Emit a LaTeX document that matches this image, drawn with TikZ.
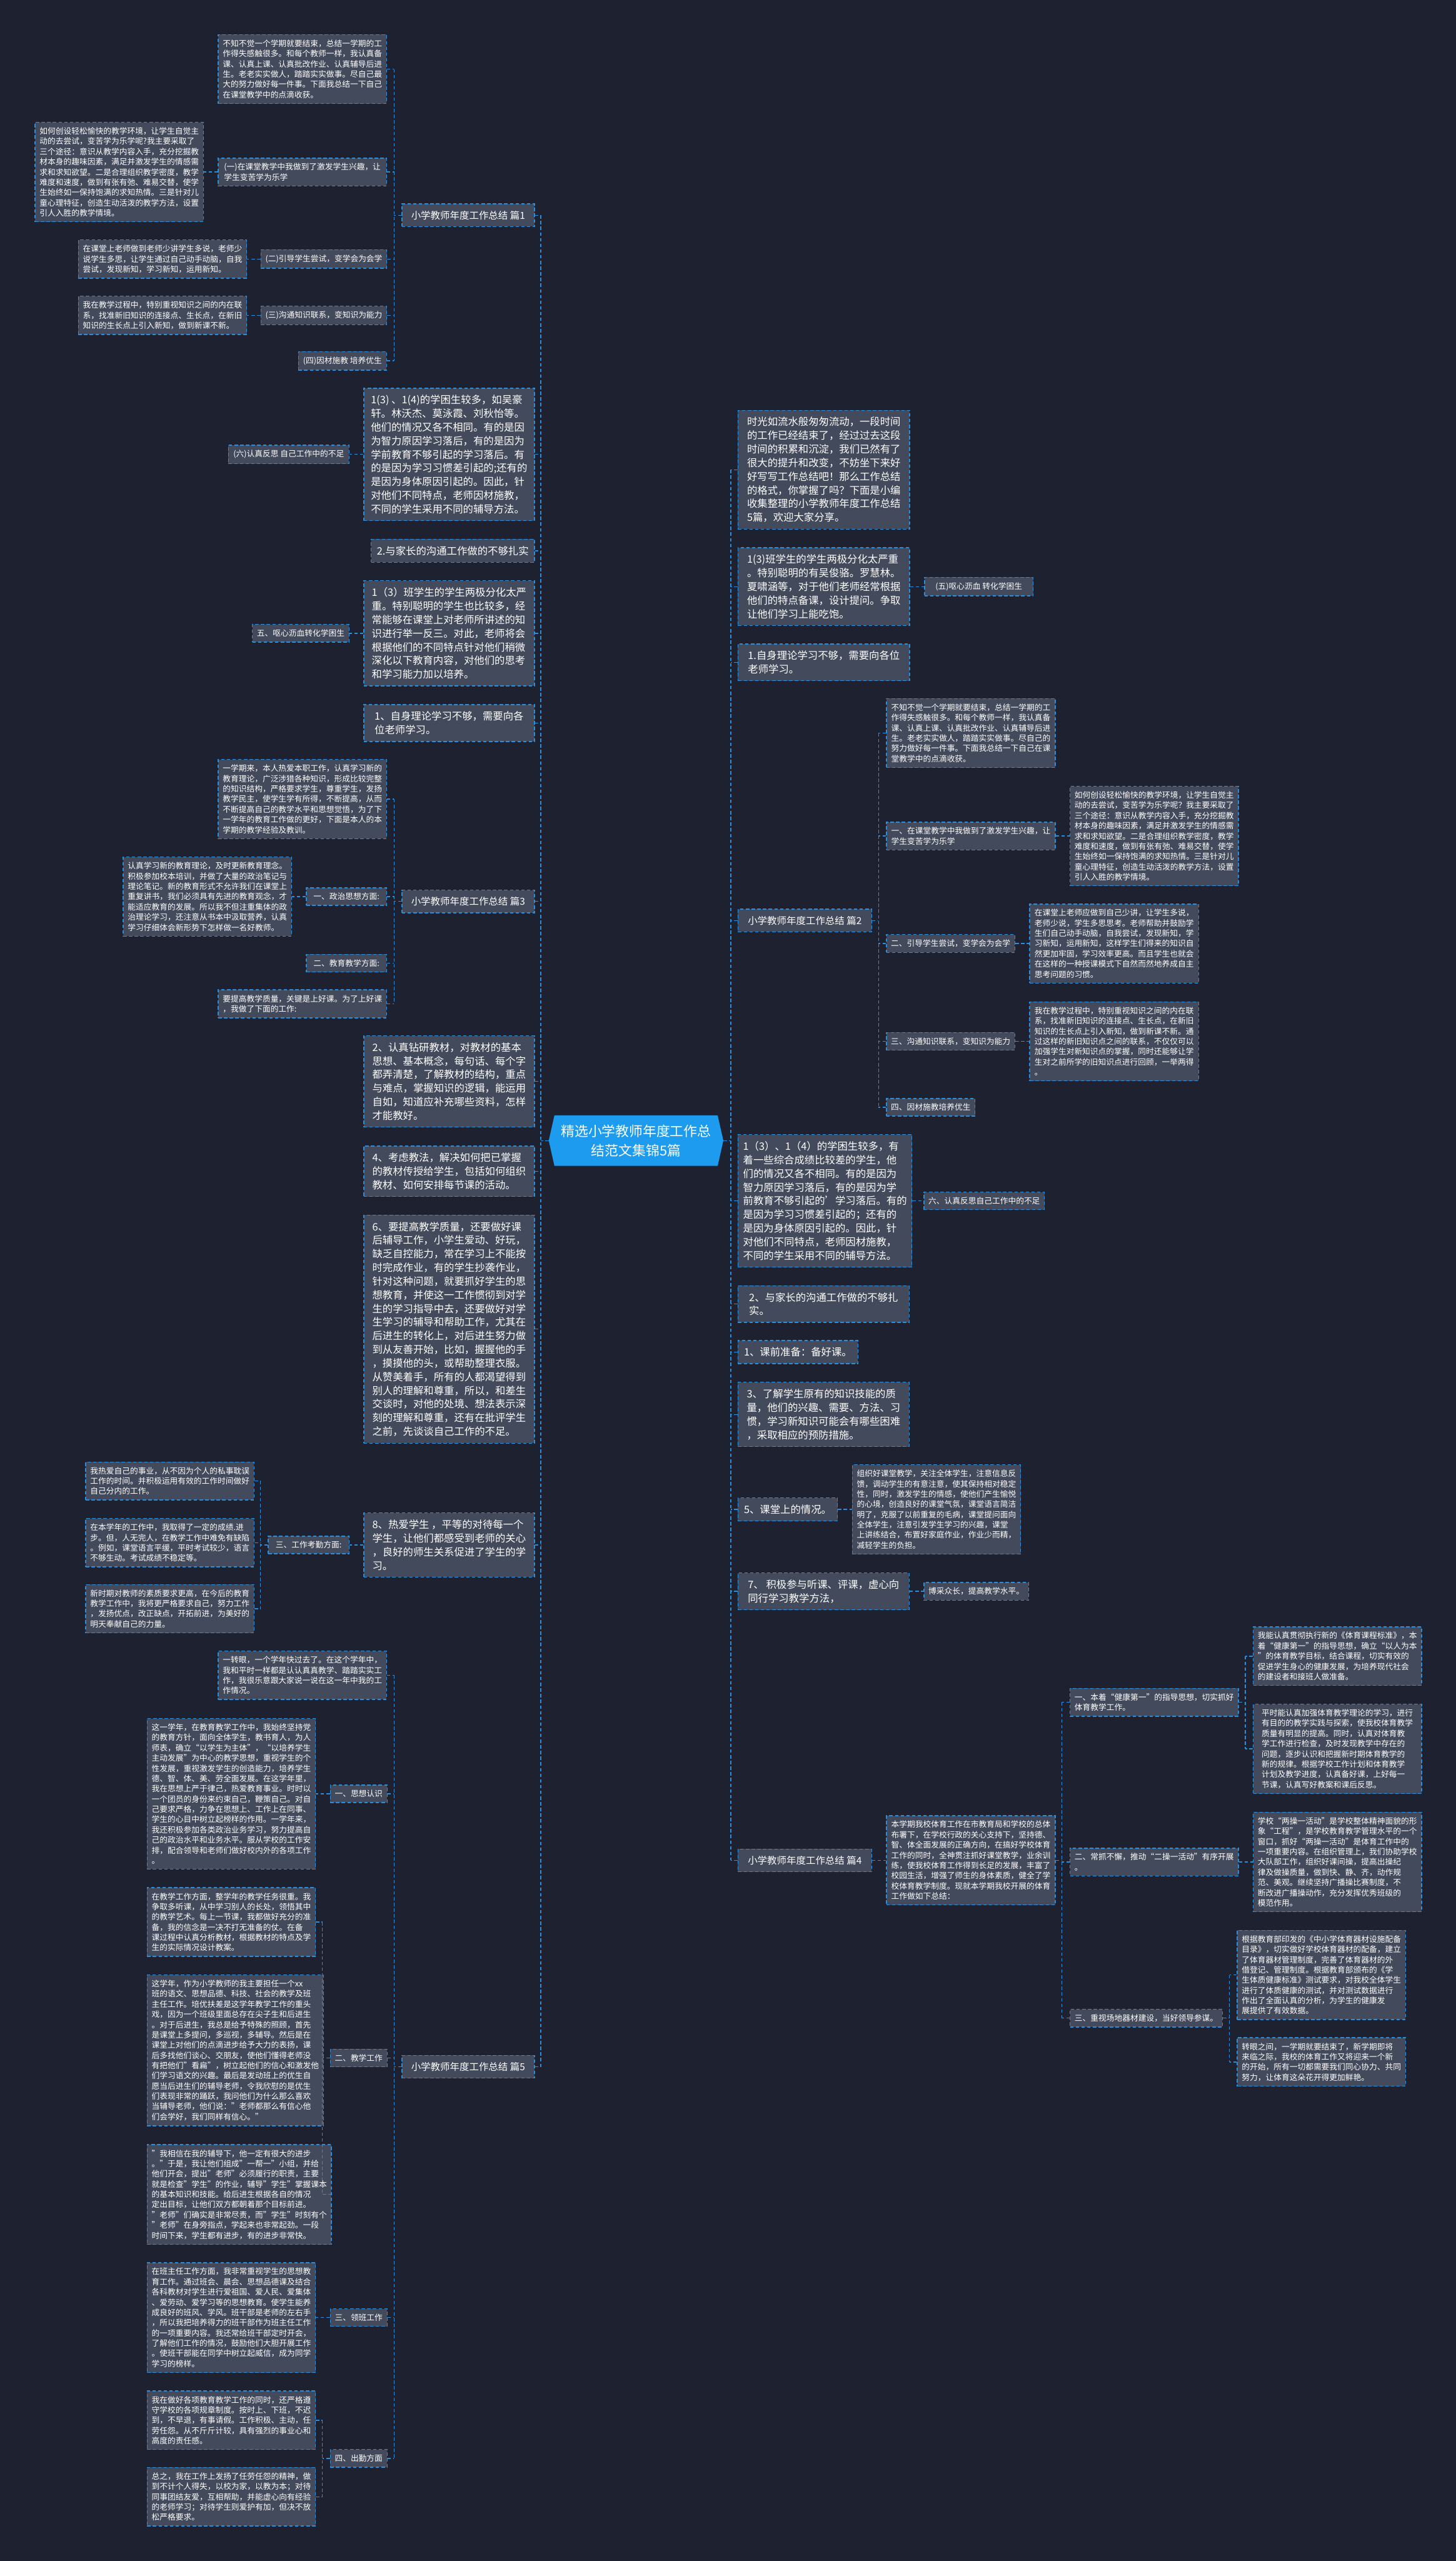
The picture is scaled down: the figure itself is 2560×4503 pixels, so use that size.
\documentclass[tikz,border=0pt]{standalone}
\usepackage{fontspec}
\setmainfont{Noto Sans CJK SC}
\definecolor{bgcol}{HTML}{1E2230}
\definecolor{boxfill}{HTML}{434A5B}
\definecolor{lineblue}{HTML}{2C8DDB}
\definecolor{cblue}{HTML}{1C9BEF}
\begin{document}
\begin{tikzpicture}[x=1pt,y=-1pt,
  conn/.style={draw=lineblue, line width=1.5pt, dash pattern=on 6pt off 4pt},
  basebox/.style={draw=lineblue, fill=boxfill, line width=1.5pt, dash pattern=on 6pt off 4pt, text=white, anchor=west, align=left, rectangle},
  smallbox/.style={basebox, font=\fontsize{14}{18}\selectfont, inner xsep=8pt, inner ysep=9pt},
  bigbox/.style={basebox, font=\fontsize{18}{24}\selectfont, inner xsep=9pt, inner ysep=12pt},
  branchbox/.style={basebox, font=\fontsize{17}{20}\selectfont, inner xsep=10pt, inner ysep=12pt},
]
\fill[bgcol] (0,0) rectangle (2560,4503);
\useasboundingbox (0,0) rectangle (2560,4503);

% ---------- centre ----------
\fill[cblue] (965,2005.5) -- (975,1961) -- (1262,1961) -- (1272,2005.5) -- (1262,2050) -- (975,2050) -- cycle;
\node[text=white, align=center, font=\fontsize{24}{34}\selectfont, minimum width=307pt, minimum height=89pt, inner sep=0pt] (cn) at (1118.5,2005.5) {精选小学教师年度工作总\\结范文集锦5篇};

% ---------- left side ----------
\node[branchbox, minimum width=233pt] (L1) at (706,378.5) {小学教师年度工作总结~篇1};
\node[smallbox, minimum width=296pt] (L1a) at (383,121.5) {不知不觉一个学期就要结束，总结一学期的工\\作得失感触很多。和每个教师一样，我认真备\\课、认真上课、认真批改作业、认真辅导后进\\生。老老实实做人，踏踏实实做事。尽自己最\\大的努力做好每一件事。下面我总结一下自己\\在课堂教学中的点滴收获。};
\node[smallbox, minimum width=296pt] (L1b) at (383,302.5) {(一)在课堂教学中我做到了激发学生兴趣，让\\学生变苦学为乐学};
\node[smallbox, minimum width=296pt] (L1b1) at (61,302.5) {如何创设轻松愉快的教学环境，让学生自觉主\\动的去尝试，变苦学为乐学呢?我主要采取了\\三个途径：意识从教学内容入手，充分挖掘教\\材本身的趣味因素，满足并激发学生的情感需\\求和求知欲望。二是合理组织教学密度，教学\\难度和速度，做到有张有弛、难易交替，使学\\生始终如一保持饱满的求知热情。三是针对儿\\童心理特征，创造生动活泼的教学方法，设置\\引人入胜的教学情境。};
\node[smallbox, minimum width=221pt] (L1c) at (458,455.5) {(二)引导学生尝试，变学会为会学};
\node[smallbox, minimum width=296pt] (L1c1) at (137,455.5) {在课堂上老师做到老师少讲学生多说，老师少\\说学生多思，让学生通过自己动手动脑，自我\\尝试，发现新知，学习新知，运用新知。};
\node[smallbox, minimum width=221pt] (L1d) at (458,554.5) {(三)沟通知识联系，变知识为能力};
\node[smallbox, minimum width=296pt] (L1d1) at (137,554.5) {我在教学过程中，特别重视知识之间的内在联\\系，找准新旧知识的连接点、生长点，在新旧\\知识的生长点上引入新知，做到新课不新。};
\node[smallbox, minimum width=155pt] (L1e) at (524,634.5) {(四)因材施教~培养优生};

\node[bigbox, minimum width=300pt] (BA) at (639,799) {1(3)~、1(4)的学困生较多，如吴豪\\轩。林沃杰、莫泳霞、刘秋怡等。\\他们的情况又各不相同。有的是因\\为智力原因学习落后，有的是因为\\学前教育不够引起的学习落后。有\\的是因为学习习惯差引起的;还有的\\是因为身体原因引起的。因此，针\\对他们不同特点，老师因材施教，\\不同的学生采用不同的辅导方法。};
\node[smallbox, minimum width=212pt] (A6) at (401,799) {(六)认真反思~自己工作中的不足};
\node[bigbox, minimum width=287pt] (FAM) at (652,968.5) {2.与家长的沟通工作做的不够扎实};
\node[bigbox, minimum width=300pt] (BB) at (639,1113.5) {1（3）班学生的学生两极分化太严\\重。特别聪明的学生也比较多，经\\常能够在课堂上对老师所讲述的知\\识进行举一反三。对此，老师将会\\根据他们的不同特点针对他们稍微\\深化以下教育内容，对他们的思考\\和学习能力加以培养。};
\node[smallbox, minimum width=170pt] (B5) at (443,1113.5) {五、呕心沥血转化学困生};
\node[bigbox, minimum width=300pt] (SELF) at (639,1271.5) {1、自身理论学习不够，需要向各\\位老师学习。};

\node[branchbox, minimum width=233pt] (P3) at (706,1585) {小学教师年度工作总结~篇3};
\node[smallbox, minimum width=296pt] (P3a) at (383,1405) {一学期来，本人热爱本职工作，认真学习新的\\教育理论，广泛涉猎各种知识，形成比较完整\\的知识结构，严格要求学生，尊重学生，发扬\\教学民主，使学生学有所得，不断提高，从而\\不断提高自己的教学水平和思想觉悟，为了下\\一学年的教育工作做的更好，下面是本人的本\\学期的教学经验及教训。};
\node[smallbox, minimum width=141pt] (P3b) at (538,1576.5) {一、政治思想方面:};
\node[smallbox, minimum width=296pt] (P3b1) at (216,1576.5) {认真学习新的教育理论，及时更新教育理念。\\积极参加校本培训，并做了大量的政治笔记与\\理论笔记。新的教育形式不允许我们在课堂上\\重复讲书，我们必须具有先进的教育观念，才\\能适应教育的发展。所以我不但注重集体的政\\治理论学习，还注意从书本中汲取营养，认真\\学习仔细体会新形势下怎样做一名好教师。};
\node[smallbox, minimum width=141pt] (P3c) at (538,1693.5) {二、教育教学方面:};
\node[smallbox, minimum width=296pt] (P3d) at (383,1765) {要提高教学质量，关键是上好课。为了上好课\\，我做了下面的工作:};

\node[bigbox, minimum width=300pt] (ST2) at (639,1901.5) {2、认真钻研教材，对教材的基本\\思想、基本概念，每句话、每个字\\都弄清楚，了解教材的结构，重点\\与难点，掌握知识的逻辑，能运用\\自如，知道应补充哪些资料，怎样\\才能教好。};
\node[bigbox, minimum width=300pt] (TE4) at (639,2059.5) {4、考虑教法，解决如何把已掌握\\的教材传授给学生，包括如何组织\\教材、如何安排每节课的活动。};
\node[bigbox, minimum width=300pt] (TU6) at (639,2337) {6、要提高教学质量，还要做好课\\后辅导工作，小学生爱动、好玩，\\缺乏自控能力，常在学习上不能按\\时完成作业，有的学生抄袭作业，\\针对这种问题，就要抓好学生的思\\想教育，并使这一工作惯彻到对学\\生的学习指导中去，还要做好对学\\生学习的辅导和帮助工作，尤其在\\后进生的转化上，对后进生努力做\\到从友善开始，比如，握握他的手\\，摸摸他的头，或帮助整理衣服。\\从赞美着手，所有的人都渴望得到\\别人的理解和尊重，所以，和差生\\交谈时，对他的处境、想法表示深\\刻的理解和尊重，还有在批评学生\\之前，先谈谈自己工作的不足。};
\node[bigbox, minimum width=300pt] (LO8) at (639,2716.5) {8、热爱学生~，平等的对待每一个\\学生，让他们都感受到老师的关心\\，良好的师生关系促进了学生的学\\习。};
\node[smallbox, minimum width=142pt] (K3) at (471,2716.5) {三、工作考勤方面:};
\node[smallbox, minimum width=296pt] (K3a) at (150,2604) {我热爱自己的事业，从不因为个人的私事耽误\\工作的时间。并积极运用有效的工作时间做好\\自己分内的工作。};
\node[smallbox, minimum width=296pt] (K3b) at (150,2712.5) {在本学年的工作中，我取得了一定的成绩.进\\步。但，人无完人，在教学工作中难免有缺陷\\。例如，课堂语言平缓，平时考试较少，语言\\不够生动。考试成绩不稳定等。};
\node[smallbox, minimum width=296pt] (K3c) at (150,2828.5) {新时期对教师的素质要求更高，在今后的教育\\教学工作中，我将更严格要求自己，努力工作\\，发扬优点，改正缺点，开拓前进，为美好的\\明天奉献自己的力量。};

\node[branchbox, minimum width=233pt] (P5) at (706,3634) {小学教师年度工作总结~篇5};
\node[smallbox, minimum width=296pt] (P5a) at (383,2945.5) {一转眼，一个学年快过去了。在这个学年中，\\我和平时一样都是认认真真教学、踏踏实实工\\作，我很乐意跟大家说一说在这一年中我的工\\作情况。};
\node[smallbox, minimum width=99pt] (P5b) at (580,3154) {一、思想认识};
\node[smallbox, minimum width=296pt] (P5b1) at (258,3154) {这一学年，在教育教学工作中，我始终坚持党\\的教育方针，面向全体学生，教书育人，为人\\师表，确立“以学生为主体”，“以培养学生\\主动发展”为中心的教学思想，重视学生的个\\性发展，重视激发学生的创造能力，培养学生\\德、智、体、美、劳全面发展。在这学年里，\\我在思想上严于律己，热爱教育事业。时时以\\一个团员的身份来约束自己，鞭策自己。对自\\己要求严格，力争在思想上、工作上在同事、\\学生的心目中树立起榜样的作用。一学年来，\\我还积极参加各类政治业务学习，努力提高自\\己的政治水平和业务水平。服从学校的工作安\\排，配合领导和老师们做好校内外的各项工作\\。};
\node[smallbox, minimum width=99pt] (P5c) at (580,3618.5) {二、教学工作};
\node[smallbox, minimum width=296pt] (P5c1) at (258,3379.5) {在教学工作方面，整学年的教学任务很重。我\\争取多听课，从中学习别人的长处，领悟其中\\的教学艺术。每上一节课，我都做好充分的准\\备，我的信念是一决不打无准备的仗。在备\\课过程中认真分析教材，根据教材的特点及学\\生的实际情况设计教案。};
\node[smallbox, minimum width=296pt] (P5c2) at (258,3605) {这学年，作为小学教师的我主要担任一个xx\\班的语文、思想品德、科技、社会的教学及班\\主任工作。培优扶差是这学年教学工作的重头\\戏，因为一个班级里面总存在尖子生和后进生\\。对于后进生，我总是给予特殊的照顾，首先\\是课堂上多提问，多巡视，多辅导。然后是在\\课堂上对他们的点滴进步给予大力的表扬，课\\后多找他们谈心、交朋友，使他们懂得老师没\\有把他们"看扁"，树立起他们的信心和激发他\\们学习语文的兴趣。最后是发动班上的优生自\\愿当后进生们的辅导老师，令我欣慰的是优生\\们表现非常的踊跃，我问他们为什么那么喜欢\\当辅导老师，他们说："老师都那么有信心他\\们会学好，我们同样有信心。"};
\node[smallbox, minimum width=296pt] (P5c3) at (258,3858.5) {"我相信在我的辅导下，他一定有很大的进步\\。"于是，我让他们组成"一帮一"小组，并给\\他们开会，提出"老师"必须履行的职责，主要\\就是检查"学生"的作业，辅导"学生"掌握课本\\的基本知识和技能。给后进生根据各自的情况\\定出目标，让他们双方都朝着那个目标前进。\\"老师"们确实是非常尽责，而"学生"时刻有个\\"老师"在身旁指点，学起来也非常起劲。一段\\时间下来，学生都有进步，有的进步非常快。};
\node[smallbox, minimum width=99pt] (P5d) at (580,4075) {三、领班工作};
\node[smallbox, minimum width=296pt] (P5d1) at (258,4075) {在班主任工作方面，我非常重视学生的思想教\\育工作。通过班会、晨会、思想品德课及结合\\各科教材对学生进行爱祖国、爱人民、爱集体\\、爱劳动、爱学习等的思想教育。使学生能养\\成良好的班风、学风。班干部是老师的左右手\\，所以我把培养得力的班干部作为班主任工作\\的一项重要内容。我还常给班干部定时开会，\\了解他们工作的情况，鼓励他们大胆开展工作\\。使班干部能在同学中树立起威信，成为同学\\学习的榜样。};
\node[smallbox, minimum width=99pt] (P5e) at (580,4322.5) {四、出勤方面};
\node[smallbox, minimum width=296pt] (P5e1) at (258,4255.5) {我在做好各项教育教学工作的同时，还严格遵\\守学校的各项规章制度。按时上、下班，不迟\\到，不早退，有事请假。工作积极、主动，任\\劳任怨。从不斤斤计较，具有强烈的事业心和\\高度的责任感。};
\node[smallbox, minimum width=296pt] (P5e2) at (258,4390) {总之，我在工作上发扬了任劳任怨的精神，做\\到不计个人得失，以校为家，以教为本；对待\\同事团结友爱，互相帮助，并能虚心向有经验\\的老师学习；对待学生则爱护有加，但决不放\\松严格要求。};

% ---------- right side ----------
\node[bigbox, minimum width=302pt] (R1) at (1297,826) {时光如流水般匆匆流动，一段时间\\的工作已经结束了，经过过去这段\\时间的积累和沉淀，我们已然有了\\很大的提升和改变，不妨坐下来好\\好写写工作总结吧！那么工作总结\\的格式，你掌握了吗？下面是小编\\收集整理的小学教师年度工作总结\\5篇，欢迎大家分享。};
\node[bigbox, minimum width=302pt] (R2) at (1297,1031.5) {1(3)班学生的学生两极分化太严重\\。特别聪明的有吴俊骆。罗慧林。\\夏啸涵等，对于他们老师经常根据\\他们的特点备课，设计提问。争取\\让他们学习上能吃饱。};
\node[smallbox, minimum width=191pt] (R2a) at (1625,1031.5) {(五)呕心沥血~转化学困生};
\node[bigbox, minimum width=302pt] (R3) at (1297,1164.5) {1.自身理论学习不够，需要向各位\\老师学习。};

\node[branchbox, minimum width=235pt] (P2) at (1297,1618.5) {小学教师年度工作总结~篇2};
\node[smallbox, minimum width=297pt] (P2a) at (1558,1289) {不知不觉一个学期就要结束，总结一学期的工\\作得失感触很多。和每个教师一样，我认真备\\课、认真上课、认真批改作业、认真辅导后进\\生。老老实实做人，踏踏实实做事。尽自己的\\努力做好每一件事。下面我总结一下自己在课\\堂教学中的点滴收获。};
\node[smallbox, minimum width=297pt] (P2b) at (1558,1470) {一、在课堂教学中我做到了激发学生兴趣，让\\学生变苦学为乐学};
\node[smallbox, minimum width=296pt] (P2b1) at (1881,1470) {如何创设轻松愉快的教学环境，让学生自觉主\\动的去尝试，变苦学为乐学呢？我主要采取了\\三个途径：意识从教学内容入手，充分挖掘教\\材本身的趣味因素，满足并激发学生的情感需\\求和求知欲望。二是合理组织教学密度，教学\\难度和速度，做到有张有弛、难易交替，使学\\生始终如一保持饱满的求知热情。三是针对儿\\童心理特征，创造生动活泼的教学方法，设置\\引人入胜的教学情境。};
\node[smallbox, minimum width=226pt] (P2c) at (1558,1659) {二、引导学生尝试，变学会为会学};
\node[smallbox, minimum width=297pt] (P2c1) at (1810,1659) {在课堂上老师应做到自己少讲，让学生多说，\\老师少说，学生多思思考。老师帮助并鼓励学\\生们自己动手动脑，自我尝试，发现新知，学\\习新知，运用新知，这样学生们得来的知识自\\然更加牢固，学习效率更高。而且学生也就会\\在这样的一种授课模式下自然而然地养成自主\\思考问题的习惯。};
\node[smallbox, minimum width=226pt] (P2d) at (1558,1831) {三、沟通知识联系，变知识为能力};
\node[smallbox, minimum width=297pt] (P2d1) at (1810,1831) {我在教学过程中，特别重视知识之间的内在联\\系，找准新旧知识的连接点、生长点，在新旧\\知识的生长点上引入新知，做到新课不新。通\\过这样的新旧知识点之间的联系，不仅仅可以\\加强学生对新知识点的掌握，同时还能够让学\\生对之前所学的旧知识点进行回顾，一举两得\\。};
\node[smallbox, minimum width=155pt] (P2e) at (1558,1947) {四、因材施教培养优生};

\node[bigbox, minimum width=301pt] (R4) at (1297,2111.5) {1（3）、1（4）的学困生较多，有\\着一些综合成绩比较差的学生，他\\们的情况又各不相同。有的是因为\\智力原因学习落后，有的是因为学\\前教育不够引起的'学习落后。有的\\是因为学习习惯差引起的；还有的\\是因为身体原因引起的。因此，针\\对他们不同特点，老师因材施教，\\不同的学生采用不同的辅导方法。};
\node[smallbox, minimum width=212pt] (R4a) at (1624,2111.5) {六、认真反思自己工作中的不足};
\node[bigbox, minimum width=301pt] (R5) at (1297,2293) {2、与家长的沟通工作做的不够扎\\实。};
\node[bigbox, minimum width=211pt] (R6) at (1297,2377.5) {1、课前准备：备好课。};
\node[bigbox, minimum width=301pt] (R7) at (1297,2487) {3、了解学生原有的知识技能的质\\量，他们的兴趣、需要、方法、习\\惯，学习新知识可能会有哪些困难\\，采取相应的预防措施。};
\node[bigbox, minimum width=175pt] (R8) at (1297,2654) {5、课堂上的情况。};
\node[smallbox, minimum width=296pt] (R8a) at (1498,2654) {组织好课堂教学，关注全体学生，注意信息反\\馈，调动学生的有意注意，使其保持相对稳定\\性，同时，激发学生的情感，使他们产生愉悦\\的心境，创造良好的课堂气氛，课堂语言简洁\\明了，克服了以前重复的毛病，课堂提问面向\\全体学生，注意引发学生学习的兴趣，课堂\\上讲练结合，布置好家庭作业，作业少而精，\\减轻学生的负担。};
\node[bigbox, minimum width=301pt] (R9) at (1297,2798) {7、~积极参与听课、评课，虚心向\\同行学习教学方法，};
\node[smallbox, minimum width=184pt] (R9a) at (1624,2798) {博采众长，提高教学水平。};

\node[branchbox, minimum width=235pt] (P4) at (1297,3271) {小学教师年度工作总结~篇4};
\node[smallbox, minimum width=297pt] (P4a) at (1558,3271) {本学期我校体育工作在市教育局和学校的总体\\布署下，在学校行政的关心支持下，坚持德、\\智、体全面发展的正确方向，在搞好学校体育\\工作的同时，全神贯注抓好课堂教学，业余训\\练，使我校体育工作得到长足的发展，丰富了\\校园生活，增强了师生的身体素质，健全了学\\校体育教学制度。现就本学期我校开展的体育\\工作做如下总结：};
\node[smallbox, minimum width=296pt] (P4b) at (1881,2993) {一、本着“健康第一”的指导思想，切实抓好\\体育教学工作。};
\node[smallbox, minimum width=296pt] (P4b1) at (2203,2912) {我能认真贯彻执行新的《体育课程标准》，本\\着“健康第一”的指导思想，确立“以人为本\\”的体育教学目标，结合课程，切实有效的\\促进学生身心的健康发展，为培养现代社会\\的建设者和接班人做准备。};
\node[smallbox, minimum width=296pt] (P4b2) at (2203,3075) {平时能认真加强体育教学理论的学习，进行\\有目的的教学实践与探索，使我校体育教学\\质量有明显的提高。同时，认真对体育教\\学工作进行检查，及时发现教学中存在的\\问题，逐步认识和把握新时期体育教学的\\新的规律。根据学校工作计划和体育教学\\计划及教学进度，认真备好课，上好每一\\节课，认真写好教案和课后反思。};
\node[smallbox, minimum width=296pt] (P4c) at (1881,3274) {二、常抓不懈，推动“二操一活动”有序开展\\。};
\node[smallbox, minimum width=296pt] (P4c1) at (2203,3274) {学校“两操一活动”是学校整体精神面貌的形\\象“工程”，是学校教育教学管理水平的一个\\窗口，抓好“两操一活动”是体育工作中的\\一项重要内容。在组织管理上，我们协助学校\\大队部工作，组织好课间操，提高出操纪\\律及做操质量，做到快、静、齐，动作规\\范、美观。继续坚持广播操比赛制度，不\\断改进广播操动作，充分发挥优秀班级的\\模范作用。};
\node[smallbox, minimum width=268pt] (P4d) at (1881,3548.5) {三、重视场地器材建设，当好领导参谋。};
\node[smallbox, minimum width=296pt] (P4d1) at (2175,3472.5) {根据教育部印发的《中小学体育器材设施配备\\目录》，切实做好学校体育器材的配备，建立\\了体育器材管理制度，完善了体育器材的外\\借登记、管理制度。根据教育部颁布的《学\\生体质健康标准》测试要求，对我校全体学生\\进行了体质健康的测试，并对测试数据进行\\作出了全面认真的分析，为学生的健康发\\展提供了有效数据。};
\node[smallbox, minimum width=296pt] (P4d2) at (2175,3625.5) {转眼之间，一学期就要结束了，新学期即将\\来临之际，我校的体育工作又将迎来一个新\\的开始，所有一切都需要我们同心协力、共同\\努力，让体育这朵花开得更加鲜艳。};

% ---------- connectors: left ----------
\coordinate (LT) at (951,2005.5);
\draw[conn] (cn.west) -- (LT);
\foreach \n in {L1,BA,FAM,BB,SELF,P3,ST2,TE4,TU6,LO8,P5} {\draw[conn] (\n.east) -- (\n.east -| LT);}
\draw[conn] (L1.east -| LT) -- (P5.east -| LT);

\coordinate (G1) at (693,378.5);
\draw[conn] (L1.west) -- (L1.west -| G1);
\foreach \n in {L1a,L1b,L1c,L1d,L1e} {\draw[conn] (\n.east) -- (\n.east -| G1);}
\draw[conn] (L1a.east -| G1) -- (L1e.east -| G1);
\draw[conn] (L1b.west) -- (L1b1.east);
\draw[conn] (L1c.west) -- (L1c1.east);
\draw[conn] (L1d.west) -- (L1d1.east);
\draw[conn] (BA.west) -- (A6.east);
\draw[conn] (BB.west) -- (B5.east);

\coordinate (G3) at (693,1585);
\draw[conn] (P3.west) -- (P3.west -| G3);
\foreach \n in {P3a,P3b,P3c,P3d} {\draw[conn] (\n.east) -- (\n.east -| G3);}
\draw[conn] (P3a.east -| G3) -- (P3d.east -| G3);
\draw[conn] (P3b.west) -- (P3b1.east);

\draw[conn] (LO8.west) -- (K3.east);
\coordinate (GK) at (458,2716.5);
\draw[conn] (K3.west) -- (K3.west -| GK);
\foreach \n in {K3a,K3b,K3c} {\draw[conn] (\n.east) -- (\n.east -| GK);}
\draw[conn] (K3a.east -| GK) -- (K3c.east -| GK);

\coordinate (G5) at (693,3634);
\draw[conn] (P5.west) -- (P5.west -| G5);
\foreach \n in {P5a,P5b,P5c,P5d,P5e} {\draw[conn] (\n.east) -- (\n.east -| G5);}
\draw[conn] (P5a.east -| G5) -- (P5e.east -| G5);
\draw[conn] (P5b.west) -- (P5b1.east);
\draw[conn] (P5d.west) -- (P5d1.east);
\coordinate (GC) at (567,3618.5);
\draw[conn] (P5c.west) -- (P5c.west -| GC);
\foreach \n in {P5c1,P5c2,P5c3} {\draw[conn] (\n.east) -- (\n.east -| GC);}
\draw[conn] (P5c1.east -| GC) -- (P5c3.east -| GC);
\coordinate (GE) at (567,4322.5);
\draw[conn] (P5e.west) -- (P5e.west -| GE);
\foreach \n in {P5e1,P5e2} {\draw[conn] (\n.east) -- (\n.east -| GE);}
\draw[conn] (P5e1.east -| GE) -- (P5e2.east -| GE);

% ---------- connectors: right ----------
\coordinate (RT) at (1285,2005.5);
\draw[conn] (cn.east) -- (RT);
\foreach \n in {R1,R2,R3,P2,R4,R5,R6,R7,R8,R9,P4} {\draw[conn] (\n.west) -- (\n.west -| RT);}
\draw[conn] (R1.west -| RT) -- (P4.west -| RT);
\draw[conn] (R2.east) -- (R2a.west);
\draw[conn] (R4.east) -- (R4a.west);
\draw[conn] (R8.east) -- (R8a.west);
\draw[conn] (R9.east) -- (R9a.west);

\coordinate (G2) at (1545,1618.5);
\draw[conn] (P2.east) -- (P2.east -| G2);
\foreach \n in {P2a,P2b,P2c,P2d,P2e} {\draw[conn] (\n.west) -- (\n.west -| G2);}
\draw[conn] (P2a.west -| G2) -- (P2e.west -| G2);
\draw[conn] (P2b.east) -- (P2b1.west);
\draw[conn] (P2c.east) -- (P2c1.west);
\draw[conn] (P2d.east) -- (P2d1.west);

\draw[conn] (P4.east) -- (P4a.west);
\coordinate (G4) at (1867,3271);
\draw[conn] (P4a.east) -- (P4a.east -| G4);
\foreach \n in {P4b,P4c,P4d} {\draw[conn] (\n.west) -- (\n.west -| G4);}
\draw[conn] (P4b.west -| G4) -- (P4d.west -| G4);
\coordinate (G4b) at (2190,2993);
\draw[conn] (P4b.east) -- (P4b.east -| G4b);
\foreach \n in {P4b1,P4b2} {\draw[conn] (\n.west) -- (\n.west -| G4b);}
\draw[conn] (P4b1.west -| G4b) -- (P4b2.west -| G4b);
\draw[conn] (P4c.east) -- (P4c1.west);
\coordinate (G4d) at (2162,3548.5);
\draw[conn] (P4d.east) -- (P4d.east -| G4d);
\foreach \n in {P4d1,P4d2} {\draw[conn] (\n.west) -- (\n.west -| G4d);}
\draw[conn] (P4d1.west -| G4d) -- (P4d2.west -| G4d);
\end{tikzpicture}
\end{document}
